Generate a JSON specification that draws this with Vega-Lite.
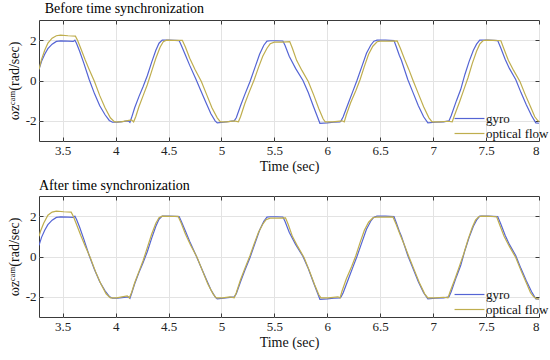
{
  "$schema": "https://vega.github.io/schema/vega-lite/v6.json",
  "padding": {"left": 6, "top": 2, "right": 5, "bottom": 0},
  "background": "white",
  "title": {"text": "Before time synchronization", "font": "serif", "fontSize": 14, "fontWeight": "normal", "anchor": "start", "frame": "bounds", "dx": 38, "offset": 3, "color": "#000"},
  "config": {
    "font": "serif",
    "view": {"stroke": "#3a3a3a", "strokeWidth": 1},
    "axis": {"labelFont": "serif", "titleFont": "serif", "labelFontSize": 13, "titleFontSize": 14, "titleFontWeight": "normal", "labelFontWeight": "normal", "labelColor": "#222", "titleColor": "#111", "gridColor": "#e3e3e3", "gridWidth": 1, "domain": false, "tickColor": "#3a3a3a", "tickSize": -4},
    "legend": {"labelFont": "serif", "labelFontSize": 13, "labelColor": "#111"}
  },
  "datasets": {
    "gyro": [
      {"t":3.276,"w":0.55,"s":"gyro"},{"t":3.30,"w":0.95,"s":"gyro"},{"t":3.33,"w":1.30,"s":"gyro"},{"t":3.36,"w":1.58,"s":"gyro"},{"t":3.40,"w":1.80,"s":"gyro"},{"t":3.44,"w":1.94,"s":"gyro"},{"t":3.48,"w":1.96,"s":"gyro"},{"t":3.55,"w":1.95,"s":"gyro"},{"t":3.60,"w":1.94,"s":"gyro"},{"t":3.615,"w":2.0,"s":"gyro"},{"t":3.63,"w":1.85,"s":"gyro"},{"t":3.66,"w":1.45,"s":"gyro"},{"t":3.70,"w":0.85,"s":"gyro"},{"t":3.75,"w":0.05,"s":"gyro"},{"t":3.80,"w":-0.65,"s":"gyro"},{"t":3.85,"w":-1.25,"s":"gyro"},{"t":3.90,"w":-1.70,"s":"gyro"},{"t":3.94,"w":-1.98,"s":"gyro"},{"t":3.97,"w":-2.07,"s":"gyro"},{"t":4.02,"w":-2.06,"s":"gyro"},{"t":4.08,"w":-2.03,"s":"gyro"},{"t":4.12,"w":-2.0,"s":"gyro"},{"t":4.135,"w":-2.08,"s":"gyro"},{"t":4.15,"w":-1.85,"s":"gyro"},{"t":4.18,"w":-1.35,"s":"gyro"},{"t":4.22,"w":-0.80,"s":"gyro"},{"t":4.26,"w":-0.30,"s":"gyro"},{"t":4.30,"w":0.25,"s":"gyro"},{"t":4.34,"w":0.90,"s":"gyro"},{"t":4.38,"w":1.50,"s":"gyro"},{"t":4.41,"w":1.85,"s":"gyro"},{"t":4.44,"w":2.0,"s":"gyro"},{"t":4.50,"w":2.0,"s":"gyro"},{"t":4.56,"w":1.99,"s":"gyro"},{"t":4.60,"w":1.98,"s":"gyro"},{"t":4.62,"w":1.75,"s":"gyro"},{"t":4.66,"w":1.25,"s":"gyro"},{"t":4.70,"w":0.75,"s":"gyro"},{"t":4.76,"w":0.05,"s":"gyro"},{"t":4.80,"w":-0.45,"s":"gyro"},{"t":4.85,"w":-1.05,"s":"gyro"},{"t":4.90,"w":-1.65,"s":"gyro"},{"t":4.94,"w":-2.0,"s":"gyro"},{"t":4.96,"w":-2.1,"s":"gyro"},{"t":5.02,"w":-2.07,"s":"gyro"},{"t":5.08,"w":-2.03,"s":"gyro"},{"t":5.12,"w":-2.0,"s":"gyro"},{"t":5.14,"w":-1.85,"s":"gyro"},{"t":5.18,"w":-1.25,"s":"gyro"},{"t":5.22,"w":-0.70,"s":"gyro"},{"t":5.27,"w":-0.05,"s":"gyro"},{"t":5.32,"w":0.70,"s":"gyro"},{"t":5.36,"w":1.30,"s":"gyro"},{"t":5.40,"w":1.75,"s":"gyro"},{"t":5.43,"w":1.95,"s":"gyro"},{"t":5.46,"w":1.97,"s":"gyro"},{"t":5.52,"w":1.97,"s":"gyro"},{"t":5.58,"w":1.96,"s":"gyro"},{"t":5.60,"w":1.75,"s":"gyro"},{"t":5.64,"w":1.2,"s":"gyro"},{"t":5.70,"w":0.6,"s":"gyro"},{"t":5.77,"w":0.0,"s":"gyro"},{"t":5.82,"w":-0.6,"s":"gyro"},{"t":5.87,"w":-1.3,"s":"gyro"},{"t":5.91,"w":-1.85,"s":"gyro"},{"t":5.93,"w":-2.12,"s":"gyro"},{"t":6.00,"w":-2.1,"s":"gyro"},{"t":6.06,"w":-2.07,"s":"gyro"},{"t":6.12,"w":-2.05,"s":"gyro"},{"t":6.13,"w":-2.0,"s":"gyro"},{"t":6.15,"w":-1.8,"s":"gyro"},{"t":6.20,"w":-1.1,"s":"gyro"},{"t":6.24,"w":-0.55,"s":"gyro"},{"t":6.28,"w":0.0,"s":"gyro"},{"t":6.33,"w":0.75,"s":"gyro"},{"t":6.37,"w":1.35,"s":"gyro"},{"t":6.41,"w":1.75,"s":"gyro"},{"t":6.44,"w":1.95,"s":"gyro"},{"t":6.47,"w":2.0,"s":"gyro"},{"t":6.55,"w":2.0,"s":"gyro"},{"t":6.63,"w":1.98,"s":"gyro"},{"t":6.65,"w":1.7,"s":"gyro"},{"t":6.68,"w":1.25,"s":"gyro"},{"t":6.70,"w":1.0,"s":"gyro"},{"t":6.76,"w":0.05,"s":"gyro"},{"t":6.81,"w":-0.6,"s":"gyro"},{"t":6.86,"w":-1.25,"s":"gyro"},{"t":6.91,"w":-1.8,"s":"gyro"},{"t":6.95,"w":-2.1,"s":"gyro"},{"t":7.02,"w":-2.07,"s":"gyro"},{"t":7.10,"w":-2.05,"s":"gyro"},{"t":7.15,"w":-2.0,"s":"gyro"},{"t":7.17,"w":-1.75,"s":"gyro"},{"t":7.22,"w":-1.0,"s":"gyro"},{"t":7.26,"w":-0.45,"s":"gyro"},{"t":7.30,"w":0.3,"s":"gyro"},{"t":7.34,"w":0.95,"s":"gyro"},{"t":7.38,"w":1.5,"s":"gyro"},{"t":7.41,"w":1.8,"s":"gyro"},{"t":7.44,"w":2.0,"s":"gyro"},{"t":7.52,"w":2.0,"s":"gyro"},{"t":7.61,"w":1.98,"s":"gyro"},{"t":7.64,"w":1.6,"s":"gyro"},{"t":7.68,"w":1.05,"s":"gyro"},{"t":7.72,"w":0.6,"s":"gyro"},{"t":7.78,"w":0.05,"s":"gyro"},{"t":7.83,"w":-0.6,"s":"gyro"},{"t":7.88,"w":-1.2,"s":"gyro"},{"t":7.93,"w":-1.75,"s":"gyro"},{"t":7.97,"w":-2.1,"s":"gyro"},{"t":8.0,"w":-2.12,"s":"gyro"}
    ],
    "ofBefore": [
      {"t":3.276,"w":0.55,"s":"optical flow"},{"t":3.30,"w":1.05,"s":"optical flow"},{"t":3.33,"w":1.50,"s":"optical flow"},{"t":3.36,"w":1.85,"s":"optical flow"},{"t":3.40,"w":2.10,"s":"optical flow"},{"t":3.44,"w":2.22,"s":"optical flow"},{"t":3.48,"w":2.25,"s":"optical flow"},{"t":3.55,"w":2.22,"s":"optical flow"},{"t":3.62,"w":2.20,"s":"optical flow"},{"t":3.64,"w":2.0,"s":"optical flow"},{"t":3.67,"w":1.6,"s":"optical flow"},{"t":3.71,"w":1.05,"s":"optical flow"},{"t":3.75,"w":0.55,"s":"optical flow"},{"t":3.80,"w":-0.05,"s":"optical flow"},{"t":3.85,"w":-0.75,"s":"optical flow"},{"t":3.90,"w":-1.35,"s":"optical flow"},{"t":3.95,"w":-1.85,"s":"optical flow"},{"t":3.99,"w":-2.05,"s":"optical flow"},{"t":4.05,"w":-2.05,"s":"optical flow"},{"t":4.10,"w":-2.0,"s":"optical flow"},{"t":4.15,"w":-1.95,"s":"optical flow"},{"t":4.17,"w":-2.05,"s":"optical flow"},{"t":4.19,"w":-1.8,"s":"optical flow"},{"t":4.22,"w":-1.3,"s":"optical flow"},{"t":4.26,"w":-0.75,"s":"optical flow"},{"t":4.30,"w":-0.2,"s":"optical flow"},{"t":4.34,"w":0.45,"s":"optical flow"},{"t":4.38,"w":1.1,"s":"optical flow"},{"t":4.42,"w":1.65,"s":"optical flow"},{"t":4.45,"w":1.92,"s":"optical flow"},{"t":4.48,"w":2.0,"s":"optical flow"},{"t":4.55,"w":1.99,"s":"optical flow"},{"t":4.63,"w":1.99,"s":"optical flow"},{"t":4.66,"w":1.65,"s":"optical flow"},{"t":4.70,"w":1.1,"s":"optical flow"},{"t":4.75,"w":0.55,"s":"optical flow"},{"t":4.81,"w":-0.05,"s":"optical flow"},{"t":4.86,"w":-0.7,"s":"optical flow"},{"t":4.91,"w":-1.35,"s":"optical flow"},{"t":4.96,"w":-1.85,"s":"optical flow"},{"t":4.99,"w":-2.05,"s":"optical flow"},{"t":5.05,"w":-2.05,"s":"optical flow"},{"t":5.12,"w":-2.0,"s":"optical flow"},{"t":5.16,"w":-2.05,"s":"optical flow"},{"t":5.18,"w":-1.8,"s":"optical flow"},{"t":5.22,"w":-1.15,"s":"optical flow"},{"t":5.26,"w":-0.6,"s":"optical flow"},{"t":5.31,"w":0.05,"s":"optical flow"},{"t":5.35,"w":0.65,"s":"optical flow"},{"t":5.39,"w":1.2,"s":"optical flow"},{"t":5.43,"w":1.6,"s":"optical flow"},{"t":5.46,"w":1.82,"s":"optical flow"},{"t":5.50,"w":1.9,"s":"optical flow"},{"t":5.58,"w":1.9,"s":"optical flow"},{"t":5.645,"w":1.93,"s":"optical flow"},{"t":5.67,"w":1.6,"s":"optical flow"},{"t":5.71,"w":1.0,"s":"optical flow"},{"t":5.76,"w":0.5,"s":"optical flow"},{"t":5.82,"w":-0.05,"s":"optical flow"},{"t":5.87,"w":-0.7,"s":"optical flow"},{"t":5.92,"w":-1.4,"s":"optical flow"},{"t":5.96,"w":-1.9,"s":"optical flow"},{"t":5.98,"w":-2.05,"s":"optical flow"},{"t":6.05,"w":-2.05,"s":"optical flow"},{"t":6.14,"w":-2.0,"s":"optical flow"},{"t":6.16,"w":-2.05,"s":"optical flow"},{"t":6.18,"w":-1.7,"s":"optical flow"},{"t":6.22,"w":-1.1,"s":"optical flow"},{"t":6.27,"w":-0.5,"s":"optical flow"},{"t":6.31,"w":0.05,"s":"optical flow"},{"t":6.35,"w":0.7,"s":"optical flow"},{"t":6.39,"w":1.3,"s":"optical flow"},{"t":6.43,"w":1.7,"s":"optical flow"},{"t":6.47,"w":1.92,"s":"optical flow"},{"t":6.50,"w":1.95,"s":"optical flow"},{"t":6.58,"w":1.95,"s":"optical flow"},{"t":6.66,"w":1.96,"s":"optical flow"},{"t":6.69,"w":1.6,"s":"optical flow"},{"t":6.73,"w":1.05,"s":"optical flow"},{"t":6.77,"w":0.55,"s":"optical flow"},{"t":6.81,"w":0.0,"s":"optical flow"},{"t":6.86,"w":-0.65,"s":"optical flow"},{"t":6.91,"w":-1.3,"s":"optical flow"},{"t":6.96,"w":-1.85,"s":"optical flow"},{"t":6.99,"w":-2.05,"s":"optical flow"},{"t":7.06,"w":-2.05,"s":"optical flow"},{"t":7.14,"w":-2.02,"s":"optical flow"},{"t":7.18,"w":-2.05,"s":"optical flow"},{"t":7.20,"w":-1.75,"s":"optical flow"},{"t":7.25,"w":-1.05,"s":"optical flow"},{"t":7.29,"w":-0.45,"s":"optical flow"},{"t":7.33,"w":0.15,"s":"optical flow"},{"t":7.37,"w":0.85,"s":"optical flow"},{"t":7.41,"w":1.45,"s":"optical flow"},{"t":7.44,"w":1.8,"s":"optical flow"},{"t":7.47,"w":1.97,"s":"optical flow"},{"t":7.50,"w":2.0,"s":"optical flow"},{"t":7.58,"w":1.99,"s":"optical flow"},{"t":7.64,"w":1.97,"s":"optical flow"},{"t":7.67,"w":1.55,"s":"optical flow"},{"t":7.71,"w":1.0,"s":"optical flow"},{"t":7.76,"w":0.5,"s":"optical flow"},{"t":7.82,"w":-0.05,"s":"optical flow"},{"t":7.87,"w":-0.7,"s":"optical flow"},{"t":7.92,"w":-1.3,"s":"optical flow"},{"t":7.96,"w":-1.8,"s":"optical flow"},{"t":7.99,"w":-2.0,"s":"optical flow"},{"t":8.0,"w":-2.02,"s":"optical flow"}
    ],
    "ofAfter": [
      {"t":3.276,"w":1.0,"s":"optical flow"},{"t":3.29,"w":1.25,"s":"optical flow"},{"t":3.32,"w":1.65,"s":"optical flow"},{"t":3.36,"w":2.05,"s":"optical flow"},{"t":3.40,"w":2.2,"s":"optical flow"},{"t":3.44,"w":2.25,"s":"optical flow"},{"t":3.51,"w":2.22,"s":"optical flow"},{"t":3.58,"w":2.20,"s":"optical flow"},{"t":3.60,"w":2.0,"s":"optical flow"},{"t":3.63,"w":1.6,"s":"optical flow"},{"t":3.67,"w":1.05,"s":"optical flow"},{"t":3.71,"w":0.55,"s":"optical flow"},{"t":3.76,"w":-0.05,"s":"optical flow"},{"t":3.81,"w":-0.75,"s":"optical flow"},{"t":3.86,"w":-1.35,"s":"optical flow"},{"t":3.91,"w":-1.85,"s":"optical flow"},{"t":3.95,"w":-2.05,"s":"optical flow"},{"t":4.01,"w":-2.05,"s":"optical flow"},{"t":4.06,"w":-2.0,"s":"optical flow"},{"t":4.11,"w":-1.95,"s":"optical flow"},{"t":4.13,"w":-2.05,"s":"optical flow"},{"t":4.15,"w":-1.8,"s":"optical flow"},{"t":4.18,"w":-1.3,"s":"optical flow"},{"t":4.22,"w":-0.75,"s":"optical flow"},{"t":4.26,"w":-0.2,"s":"optical flow"},{"t":4.30,"w":0.45,"s":"optical flow"},{"t":4.34,"w":1.1,"s":"optical flow"},{"t":4.38,"w":1.65,"s":"optical flow"},{"t":4.41,"w":1.92,"s":"optical flow"},{"t":4.44,"w":2.0,"s":"optical flow"},{"t":4.51,"w":1.99,"s":"optical flow"},{"t":4.59,"w":1.99,"s":"optical flow"},{"t":4.62,"w":1.65,"s":"optical flow"},{"t":4.66,"w":1.1,"s":"optical flow"},{"t":4.71,"w":0.55,"s":"optical flow"},{"t":4.77,"w":-0.05,"s":"optical flow"},{"t":4.82,"w":-0.7,"s":"optical flow"},{"t":4.87,"w":-1.35,"s":"optical flow"},{"t":4.92,"w":-1.85,"s":"optical flow"},{"t":4.95,"w":-2.05,"s":"optical flow"},{"t":5.01,"w":-2.05,"s":"optical flow"},{"t":5.08,"w":-2.0,"s":"optical flow"},{"t":5.12,"w":-2.05,"s":"optical flow"},{"t":5.14,"w":-1.8,"s":"optical flow"},{"t":5.18,"w":-1.15,"s":"optical flow"},{"t":5.22,"w":-0.6,"s":"optical flow"},{"t":5.27,"w":0.05,"s":"optical flow"},{"t":5.31,"w":0.65,"s":"optical flow"},{"t":5.35,"w":1.2,"s":"optical flow"},{"t":5.39,"w":1.6,"s":"optical flow"},{"t":5.42,"w":1.82,"s":"optical flow"},{"t":5.46,"w":1.9,"s":"optical flow"},{"t":5.54,"w":1.9,"s":"optical flow"},{"t":5.605,"w":1.92,"s":"optical flow"},{"t":5.63,"w":1.6,"s":"optical flow"},{"t":5.67,"w":1.0,"s":"optical flow"},{"t":5.72,"w":0.5,"s":"optical flow"},{"t":5.78,"w":-0.05,"s":"optical flow"},{"t":5.83,"w":-0.7,"s":"optical flow"},{"t":5.88,"w":-1.4,"s":"optical flow"},{"t":5.92,"w":-1.9,"s":"optical flow"},{"t":5.94,"w":-2.05,"s":"optical flow"},{"t":6.01,"w":-2.05,"s":"optical flow"},{"t":6.10,"w":-2.0,"s":"optical flow"},{"t":6.12,"w":-2.05,"s":"optical flow"},{"t":6.14,"w":-1.7,"s":"optical flow"},{"t":6.18,"w":-1.1,"s":"optical flow"},{"t":6.23,"w":-0.5,"s":"optical flow"},{"t":6.27,"w":0.05,"s":"optical flow"},{"t":6.31,"w":0.7,"s":"optical flow"},{"t":6.35,"w":1.3,"s":"optical flow"},{"t":6.39,"w":1.7,"s":"optical flow"},{"t":6.43,"w":1.92,"s":"optical flow"},{"t":6.46,"w":1.95,"s":"optical flow"},{"t":6.54,"w":1.95,"s":"optical flow"},{"t":6.62,"w":1.96,"s":"optical flow"},{"t":6.65,"w":1.6,"s":"optical flow"},{"t":6.69,"w":1.05,"s":"optical flow"},{"t":6.73,"w":0.55,"s":"optical flow"},{"t":6.77,"w":0.0,"s":"optical flow"},{"t":6.82,"w":-0.65,"s":"optical flow"},{"t":6.87,"w":-1.3,"s":"optical flow"},{"t":6.92,"w":-1.85,"s":"optical flow"},{"t":6.95,"w":-2.05,"s":"optical flow"},{"t":7.02,"w":-2.05,"s":"optical flow"},{"t":7.10,"w":-2.02,"s":"optical flow"},{"t":7.14,"w":-2.05,"s":"optical flow"},{"t":7.16,"w":-1.75,"s":"optical flow"},{"t":7.21,"w":-1.05,"s":"optical flow"},{"t":7.25,"w":-0.45,"s":"optical flow"},{"t":7.29,"w":0.15,"s":"optical flow"},{"t":7.33,"w":0.85,"s":"optical flow"},{"t":7.37,"w":1.45,"s":"optical flow"},{"t":7.40,"w":1.8,"s":"optical flow"},{"t":7.43,"w":1.97,"s":"optical flow"},{"t":7.46,"w":2.0,"s":"optical flow"},{"t":7.54,"w":1.99,"s":"optical flow"},{"t":7.60,"w":1.97,"s":"optical flow"},{"t":7.63,"w":1.55,"s":"optical flow"},{"t":7.67,"w":1.0,"s":"optical flow"},{"t":7.72,"w":0.5,"s":"optical flow"},{"t":7.78,"w":-0.05,"s":"optical flow"},{"t":7.83,"w":-0.7,"s":"optical flow"},{"t":7.88,"w":-1.3,"s":"optical flow"},{"t":7.92,"w":-1.8,"s":"optical flow"},{"t":7.95,"w":-2.0,"s":"optical flow"},{"t":7.98,"w":-2.1,"s":"optical flow"},{"t":8.0,"w":-2.1,"s":"optical flow"}
    ]
  },
  "vconcat": [
    {
      "width": 500,
      "height": 121,
      "resolve": {"axis": {"x": "independent", "y": "independent"}},
      "layer": [
        {
          "data": {"name": "gyro"},
          "mark": {"type": "line", "strokeWidth": 1.2, "clip": true},
          "encoding": {
            "x": {"field": "t", "type": "quantitative", "scale": {"domain": [3.276, 8], "nice": false, "zero": false}, "axis": {"values": [3.5,4,4.5,5,5.5,6,6.5,7,7.5,8], "labelExpr": "'' + datum.value", "labelFont": "serif", "titleFont": "serif", "title": "Time (sec)", "labelPadding": 7, "titlePadding": 2}},
            "y": {"field": "w", "type": "quantitative", "scale": {"domain": [-3, 3], "nice": false}, "axis": {"values": [-2, 0, 2], "labelExpr": "'' + datum.value", "labelFont": "serif", "titleFont": "serif", "title": "ωzᶜᵃᵐ(rad/sec)", "labelPadding": 7, "titlePadding": 4}},
            "color": {"field": "s", "type": "nominal", "scale": {"domain": ["gyro", "optical flow"], "range": ["#5464d4", "#bfae4e"]}, "legend": {"title": null, "orient": "none", "legendX": 423, "legendY": 91, "symbolType": "M-2.3,0H2.3", "symbolSize": 169, "symbolStrokeWidth": 1.2, "labelOffset": 9, "rowPadding": -1, "labelFont": "serif"}}
          }
        },
        {
          "data": {"name": "ofBefore"},
          "mark": {"type": "line", "strokeWidth": 1.2, "clip": true},
          "encoding": {
            "x": {"field": "t", "type": "quantitative", "axis": {"orient": "top", "values": [3.5,4,4.5,5,5.5,6,6.5,7,7.5,8], "labels": false, "grid": false, "title": null}},
            "y": {"field": "w", "type": "quantitative", "axis": {"orient": "right", "values": [-2, 0, 2], "labels": false, "grid": false, "title": null}},
            "color": {"field": "s", "type": "nominal"}
          }
        }
      ]
    },
    {
      "title": {"text": "After time synchronization", "font": "serif", "fontSize": 14, "fontWeight": "normal", "anchor": "start", "frame": "group", "offset": 3, "color": "#000"},
      "width": 500,
      "height": 121,
      "resolve": {"axis": {"x": "independent", "y": "independent"}},
      "layer": [
        {
          "data": {"name": "gyro"},
          "mark": {"type": "line", "strokeWidth": 1.2, "clip": true},
          "encoding": {
            "x": {"field": "t", "type": "quantitative", "scale": {"domain": [3.276, 8], "nice": false, "zero": false}, "axis": {"values": [3.5,4,4.5,5,5.5,6,6.5,7,7.5,8], "labelExpr": "'' + datum.value", "labelFont": "serif", "titleFont": "serif", "title": "Time (sec)", "labelPadding": 7, "titlePadding": 2}},
            "y": {"field": "w", "type": "quantitative", "scale": {"domain": [-3, 3], "nice": false}, "axis": {"values": [-2, 0, 2], "labelExpr": "'' + datum.value", "labelFont": "serif", "titleFont": "serif", "title": "ωzᶜᵃᵐ(rad/sec)", "labelPadding": 7, "titlePadding": 4}},
            "color": {"field": "s", "type": "nominal", "scale": {"domain": ["gyro", "optical flow"], "range": ["#5464d4", "#bfae4e"]}, "legend": {"title": null, "orient": "none", "legendX": 423, "legendY": 91, "symbolType": "M-2.3,0H2.3", "symbolSize": 169, "symbolStrokeWidth": 1.2, "labelOffset": 9, "rowPadding": -1, "labelFont": "serif"}}
          }
        },
        {
          "data": {"name": "ofAfter"},
          "mark": {"type": "line", "strokeWidth": 1.2, "clip": true},
          "encoding": {
            "x": {"field": "t", "type": "quantitative", "axis": {"orient": "top", "values": [3.5,4,4.5,5,5.5,6,6.5,7,7.5,8], "labels": false, "grid": false, "title": null}},
            "y": {"field": "w", "type": "quantitative", "axis": {"orient": "right", "values": [-2, 0, 2], "labels": false, "grid": false, "title": null}},
            "color": {"field": "s", "type": "nominal"}
          }
        }
      ]
    }
  ],
  "spacing": 4,
  "resolve": {"legend": {"color": "independent"}}
}
